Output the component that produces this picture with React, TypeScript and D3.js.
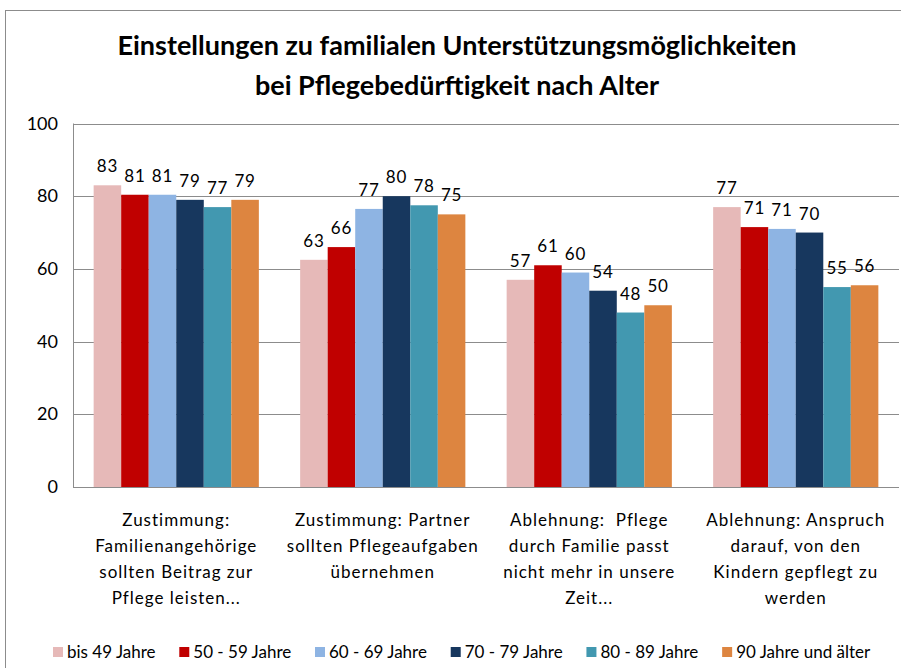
import React, { useRef, useEffect } from 'react';
import * as d3 from 'd3';

const categories = [
  ['Zustimmung:', 'Familienangehörige', 'sollten Beitrag zur', 'Pflege leisten...'],
  ['Zustimmung: Partner', 'sollten Pflegeaufgaben', 'übernehmen'],
  ['Ablehnung:  Pflege', 'durch Familie passt', 'nicht mehr in unsere', 'Zeit...'],
  ['Ablehnung: Anspruch', 'darauf, von den', 'Kindern gepflegt zu', 'werden'],
];
const seriesNames = ['bis 49 Jahre', '50 - 59 Jahre', '60 - 69 Jahre', '70 - 79 Jahre', '80 - 89 Jahre', '90 Jahre und älter'];
const seriesColors = ['#E6B9B8', '#C00000', '#8EB4E3', '#17375E', '#4298B0', '#DD8540'];
// bar heights per series, one per category
const bis49 = [83, 62.5, 57, 77];
const j50 = [80.4, 66, 61, 71.5];
const j60 = [80.4, 76.5, 59, 71];
const j70 = [79, 80, 54, 70];
const j80 = [77, 77.5, 48, 55];
const j90 = [79, 75, 50, 55.5];
// printed labels
const labels = [
  [83, 63, 57, 77],
  [81, 66, 61, 71],
  [81, 77, 60, 71],
  [79, 80, 54, 70],
  [77, 78, 48, 55],
  [79, 75, 50, 56],
];
const yTicks = [0, 20, 40, 60, 80, 100];

const FONT = 'Lato, "Open Sans", sans-serif';

const App = () => {
  const svgRef = useRef(null);

  useEffect(() => {
    const values = [bis49, j50, j60, j70, j80, j90];
    const svg = d3.select(svgRef.current);
    svg.selectAll('*').remove();

    svg.append('rect')
      .attr('x', 5.5).attr('y', 10.5)
      .attr('width', 1000).attr('height', 1000)
      .attr('fill', 'white').attr('stroke', '#8c8c8c');

    const left = 73, right = 899, top = 123.5, bottom = 487;

    const x0 = d3.scaleBand().domain(d3.range(categories.length).map(String)).range([left, right]).paddingInner(0.2).paddingOuter(0.1);
    const x1 = d3.scaleBand().domain(seriesNames).range([0, x0.bandwidth()]);
    const y = d3.scaleLinear().domain([0, 100]).range([bottom, top]);

    // title
    const title = svg.append('text')
      .attr('text-anchor', 'middle')
      .attr('font-family', FONT)
      .attr('font-weight', 'bold')
      .attr('font-size', 27)
      .attr('fill', '#000');
    title.append('tspan').attr('x', 457).attr('y', 55).text('Einstellungen zu familialen Unterstützungsmöglichkeiten');
    title.append('tspan').attr('x', 457).attr('y', 95).text('bei Pflegebedürftigkeit nach Alter');

    // gridlines
    svg.append('g').selectAll('line').data(yTicks).enter().append('line')
      .attr('x1', left).attr('x2', right)
      .attr('y1', d => Math.round(y(d)) + 0.5).attr('y2', d => Math.round(y(d)) + 0.5)
      .attr('stroke', '#8c8c8c');
    svg.append('line')
      .attr('x1', left + 0.5).attr('x2', left + 0.5)
      .attr('y1', y(100)).attr('y2', y(0))
      .attr('stroke', '#8c8c8c');

    // y axis labels
    svg.append('g').selectAll('text').data(yTicks).enter().append('text')
      .attr('x', 58).attr('y', d => y(d) + 6)
      .attr('text-anchor', 'end')
      .attr('font-family', FONT).attr('font-size', 18)
      .text(d => d);

    // bars
    seriesNames.forEach((s, si) => {
      const g = svg.append('g');
      g.selectAll('rect').data(values[si]).enter().append('rect')
        .attr('x', (d, ci) => x0(String(ci)) + x1(s))
        .attr('y', d => y(d))
        .attr('width', x1.bandwidth())
        .attr('height', d => y(0) - y(d))
        .attr('fill', seriesColors[si]);
      g.selectAll('text').data(values[si]).enter().append('text')
        .attr('x', (d, ci) => x0(String(ci)) + x1(s) + x1.bandwidth() / 2)
        .attr('y', d => y(d) - 13)
        .attr('text-anchor', 'middle')
        .attr('font-family', FONT).attr('font-size', 17)
        .attr('letter-spacing', 0.8)
        .text((d, ci) => labels[si][ci]);
    });

    // category labels
    categories.forEach((lines, ci) => {
      const t = svg.append('text')
        .attr('text-anchor', 'middle')
        .attr('font-family', FONT).attr('font-size', 17)
        .attr('letter-spacing', 1)
        .style('white-space', 'pre');
      lines.forEach((ln, li) => {
        t.append('tspan')
          .attr('x', x0(String(ci)) + x0.bandwidth() / 2)
          .attr('y', 526 + li * 26)
          .text(ln);
      });
    });

    // legend
    const legend = svg.append('g');
    const items = legend.selectAll('g').data(seriesNames).enter().append('g');
    items.append('rect').attr('width', 10).attr('height', 10).attr('y', -5).attr('fill', (d, i) => seriesColors[i]);
    items.append('text').attr('x', 14).attr('y', 6)
      .attr('font-family', FONT).attr('font-size', 17)
      .text(d => d);
    const widths = items.nodes().map(n => n.getBBox().width);
    const startX = 53, endX = 871;
    const gap = (endX - startX - d3.sum(widths)) / (widths.length - 1);
    let cx = startX;
    items.each(function (d, i) {
      d3.select(this).attr('transform', `translate(${cx},652)`);
      cx += widths[i] + gap;
    });
  }, []);

  return <svg ref={svgRef} width={901} height={668} style={{ position: 'absolute', left: 0, top: 0 }} />;
};

export default App;
